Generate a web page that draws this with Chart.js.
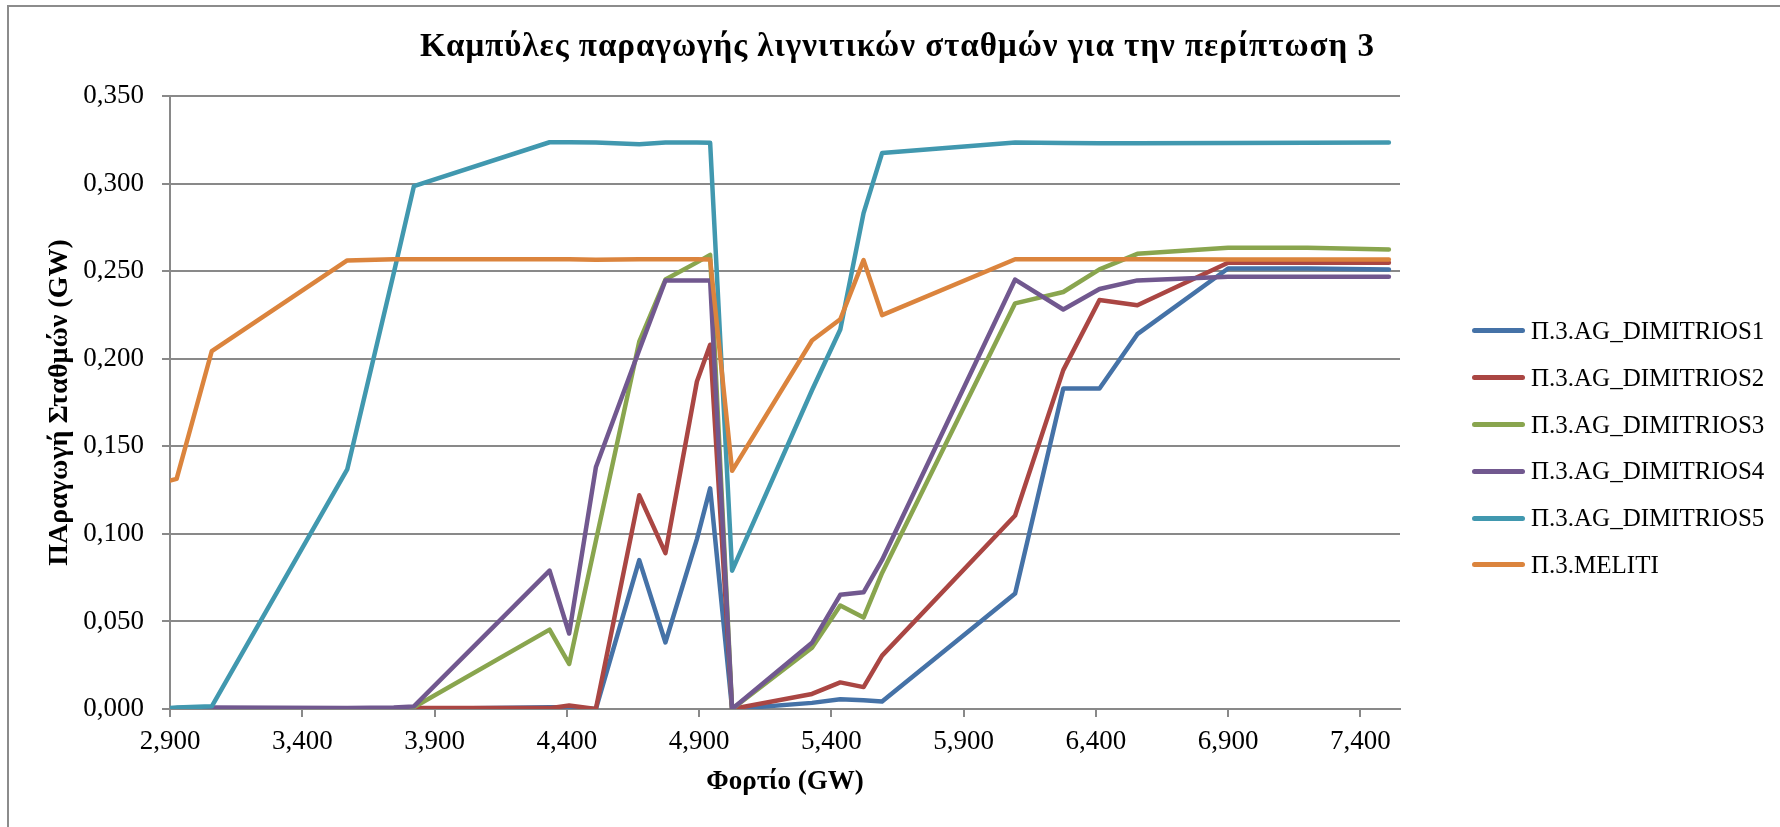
<!DOCTYPE html>
<html lang="el">
<head>
<meta charset="utf-8">
<title>Καμπύλες παραγωγής λιγνιτικών σταθμών</title>
<script src="https://cdn.jsdelivr.net/npm/chart.js@4.4.1/dist/chart.umd.min.js"></script>
<style>
    body { margin: 0; background: #fff; }
    #wrap { position: relative; width: 1780px; height: 827px; overflow: hidden; font-family: "Liberation Serif", serif; color: #000; }
    #frame { position: absolute; left: 7px; top: 5px; width: 2000px; height: 2000px; border-left: 2px solid #8c8c8c; border-top: 2px solid #8c8c8c; }
    #chart { position: absolute; left: 0; top: 0; }
    #title { position: absolute; left: 0; top: 29px; width: 1795px; text-align: center; font-weight: bold; font-size: 33px; line-height: 33px; letter-spacing: 1px; white-space: nowrap; }
    #legend { position: absolute; left: 1472px; top: 307.6px; }
    .item { display: flex; align-items: center; height: 46.8px; font-size: 25px; white-space: nowrap; }
    .swatch { width: 53px; height: 5px; border-radius: 3px; margin-right: 6px; }
</style>
</head>
<body>
<div id="wrap">
    <div id="frame"></div>
    <canvas id="chart" width="1780" height="827"></canvas>
    <div id="title">Καμπύλες παραγωγής λιγνιτικών σταθμών για την περίπτωση 3</div>
    <div id="legend"></div>
</div>
<script>
// Load (GW) on the x axis
const loads = [2.900, 2.925, 3.058, 3.570, 3.746, 3.822, 4.335, 4.409, 4.510, 4.674, 4.773, 4.892, 4.942,
               5.025, 5.327, 5.434, 5.522, 5.592, 6.095, 6.277, 6.414, 6.557, 6.900, 7.200, 7.508];

// Unit output (GW)
const dimitrios1 = [0.000, 0.000, 0.000, 0.000, 0.000, 0.000, 0.001, 0.001, 0.000, 0.085, 0.038, 0.097, 0.126,
                    0.000, 0.0035, 0.0056, 0.0050, 0.0043, 0.066, 0.183, 0.183, 0.214, 0.2515, 0.2515, 0.251];
const dimitrios2 = [0.000, 0.000, 0.000, 0.000, 0.000, 0.0005, 0.0005, 0.002, 0.000, 0.122, 0.089, 0.187, 0.208,
                    0.000, 0.0086, 0.0152, 0.0125, 0.0305, 0.1105, 0.1935, 0.2335, 0.2305, 0.2548, 0.2548, 0.2548];
const dimitrios3 = [0.000, 0.000, 0.000, 0.000, 0.000, 0.001, 0.0453, 0.0257, 0.096, 0.2097, 0.2452, 0.255, 0.2593,
                    0.000, 0.035, 0.0591, 0.0522, 0.0777, 0.2316, 0.2381, 0.251, 0.2599, 0.2633, 0.2633, 0.2624];
const dimitrios4 = [0.000, 0.0005, 0.0008, 0.0005, 0.0008, 0.0015, 0.079, 0.0431, 0.138, 0.205, 0.2447, 0.2447, 0.2447,
                    0.000, 0.0378, 0.0652, 0.0666, 0.0851, 0.2452, 0.2281, 0.2398, 0.2447, 0.2468, 0.2468, 0.2468];
const dimitrios5 = [0.0005, 0.0008, 0.0015, 0.1368, 0.2490, 0.2985, 0.3236, 0.3236, 0.3234, 0.3225, 0.3234, 0.3234, 0.3233,
                    0.079, 0.182, 0.2167, 0.2831, 0.3174, 0.3234, 0.3232, 0.3230, 0.3230, 0.3232, 0.3233, 0.3234];
const meliti     = [0.1305, 0.1314, 0.2044, 0.2561, 0.2568, 0.2568, 0.2568, 0.2568, 0.2565, 0.2568, 0.2568, 0.2568, 0.2566,
                    0.1360, 0.2104, 0.2225, 0.2563, 0.2249, 0.2568, 0.2568, 0.2568, 0.2568, 0.2567, 0.2567, 0.2566];

const seriesNames = ['Π.3.AG_DIMITRIOS1', 'Π.3.AG_DIMITRIOS2', 'Π.3.AG_DIMITRIOS3',
                     'Π.3.AG_DIMITRIOS4', 'Π.3.AG_DIMITRIOS5', 'Π.3.MELITI'];
const seriesValues = [dimitrios1, dimitrios2, dimitrios3, dimitrios4, dimitrios5, meliti];
const seriesColors = ['#4572A7', '#AA4643', '#89A54E', '#71588F', '#4198AF', '#DB843D'];

const xTicks = [2.9, 3.4, 3.9, 4.4, 4.9, 5.4, 5.9, 6.4, 6.9, 7.4];

const gridColor = '#898989';
const fontFamily = '"Liberation Serif", serif';
const fmt = v => Number(v).toFixed(3).replace('.', ',');

const datasets = seriesNames.map((name, i) => ({
    label: name,
    data: loads.map((x, j) => ({ x: x, y: seriesValues[i][j] })),
    borderColor: seriesColors[i],
    backgroundColor: seriesColors[i],
    borderWidth: 4.5,
    borderJoinStyle: 'round',
    borderCapStyle: 'round',
    pointRadius: 0,
    tension: 0,
    // later series are painted on top, like the original
    order: seriesNames.length - i
}));

new Chart(document.getElementById('chart'), {
    type: 'line',
    data: { datasets },
    options: {
        responsive: false,
        animation: false,
        devicePixelRatio: 1,
        layout: { padding: { top: 96, right: 380, bottom: 0, left: 0 } },
        plugins: {
            legend: { display: false },
            tooltip: { enabled: false },
            title: { display: false }
        },
        scales: {
            x: {
                type: 'linear',
                min: 2.9,
                max: 7.55,
                afterFit: scale => { scale.height = 118; },
                afterBuildTicks: axis => { axis.ticks = xTicks.map(v => ({ value: v })); },
                border: { display: true, color: gridColor, width: 2 },
                grid: { drawOnChartArea: false, drawTicks: true, tickLength: 8, color: gridColor, lineWidth: 2 },
                ticks: {
                    color: '#000',
                    padding: 9,
                    maxRotation: 0,
                    autoSkip: false,
                    font: { family: fontFamily, size: 27 },
                    callback: v => fmt(v)
                },
                title: {
                    display: true,
                    text: 'Φορτίο (GW)',
                    color: '#000',
                    font: { family: fontFamily, size: 27, weight: 'bold' },
                    padding: { top: 0, bottom: 29 }
                }
            },
            y: {
                min: 0,
                max: 0.35,
                afterFit: scale => { scale.width = 170; },
                border: { display: true, color: gridColor, width: 2 },
                grid: { color: gridColor, lineWidth: 2, tickLength: 8 },
                ticks: {
                    stepSize: 0.05,
                    color: '#000',
                    padding: 18,
                    font: { family: fontFamily, size: 27 },
                    callback: v => fmt(v)
                },
                title: {
                    display: true,
                    text: 'ΠΑραγωγή Σταθμών (GW)',
                    color: '#000',
                    font: { family: fontFamily, size: 28, weight: 'bold' },
                    padding: { top: 43, bottom: 0 }
                }
            }
        }
    }
});

// Legend on the right
const legend = document.getElementById('legend');
legend.innerHTML = seriesNames.map((name, i) => `
    <div class="item"><span class="swatch" style="background:${seriesColors[i]}"></span>${name}</div>
`).join('');
</script>
</body>
</html>
